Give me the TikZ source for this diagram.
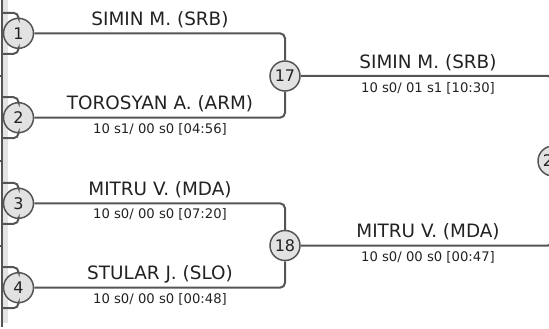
\documentclass[tikz,border=0pt]{standalone}
\usepackage{fontspec}
\setmainfont{DejaVu Sans}
\definecolor{wire}{HTML}{555555}
\definecolor{ink}{HTML}{222222}
\definecolor{band}{HTML}{E4E4E4}
\definecolor{disc}{HTML}{E2E2E2}
\begin{document}
\begin{tikzpicture}[x=1pt,y=-1pt,
    match node/.style={circle,draw=wire,line width=1.5pt,minimum size=30pt,inner sep=0pt,
        fill=disc,text=ink,font=\fontsize{16}{16}\selectfont},
    player/.style={anchor=base,text=ink,inner sep=0pt,font=\fontsize{18.4}{18.4}\selectfont},
    score/.style={anchor=base,text=ink,inner sep=0pt,font=\fontsize{13.2}{13.2}\selectfont},
    wire line/.style={draw=wire,line width=2pt,rounded corners=5pt}]
                \useasboundingbox (0,0) rectangle (549,329);

                % left border
                \fill[band] (3,0) rectangle (8,323);
                \coordinate (edgetop) at (2,0);
                \coordinate (edgebot) at (2,327);
                \draw[wire,line width=2pt] (edgetop) -- (edgebot);
                \foreach \y in {76,161,246}
                    \draw[wire,line width=2pt] (0,\y) -- (2,\y);

                \node[match node] at (18.5, 33.3) (p1) {1};
                \node[match node] at (18.5, 117.7) (p2) {2};
                \node[match node] at (18.5, 203.3) (p3) {3};
                \node[match node] at (18.5, 287.7) (p4) {4};
                \node[match node] at (285, 76) (m17) {17};
                \node[match node] at (285, 245.5) (m18) {18};
                \node[match node] at (553, 161) (m25) {25};

                \coordinate (in1a) at (2, 12.8);
                \coordinate (in1b) at (2, 53.8);
                \coordinate (in2a) at (2, 97.2);
                \coordinate (in2b) at (2, 138.2);
                \coordinate (in3a) at (2, 182.8);
                \coordinate (in3b) at (2, 223.8);
                \coordinate (in4a) at (2, 267.2);
                \coordinate (in4b) at (2, 308.2);

                \foreach \i in {1,2,3,4} {
                    \draw[wire line] (in\i a) -| (p\i);
                    \draw[wire line] (in\i b) -| (p\i);
                }

                \draw[wire line] (p1) -| (m17);
                \draw[wire line] (p2) -| (m17);
                \draw[wire line] (p3) -| (m18);
                \draw[wire line] (p4) -| (m18);
                \draw[wire line] (m17) -| (m25);
                \draw[wire line] (m18) -| (m25);

                \node[player] at (160, 25.1) (n1) {SIMIN M. (SRB)};
                \node[player] at (160, 109.5) (n2) {TOROSYAN A. (ARM)};
                \node[score] at (160, 133.3) (s2) {10 s1/ 00 s0 [04:56]};
                \node[player] at (160, 195.1) (n3) {MITRU V. (MDA)};
                \node[score] at (160, 218.9) (s3) {10 s0/ 00 s0 [07:20]};
                \node[player] at (160, 279.5) (n4) {STULAR J. (SLO)};
                \node[score] at (160, 303.3) (s4) {10 s0/ 00 s0 [00:48]};
                \node[player] at (428, 68.4) (n17) {SIMIN M. (SRB)};
                \node[score] at (428, 92.2) (s17) {10 s0/ 01 s1 [10:30]};
                \node[player] at (428, 237.6) (n18) {MITRU V. (MDA)};
                \node[score] at (428, 261.4) (s18) {10 s0/ 00 s0 [00:47]};
            \end{tikzpicture}
\end{document}
